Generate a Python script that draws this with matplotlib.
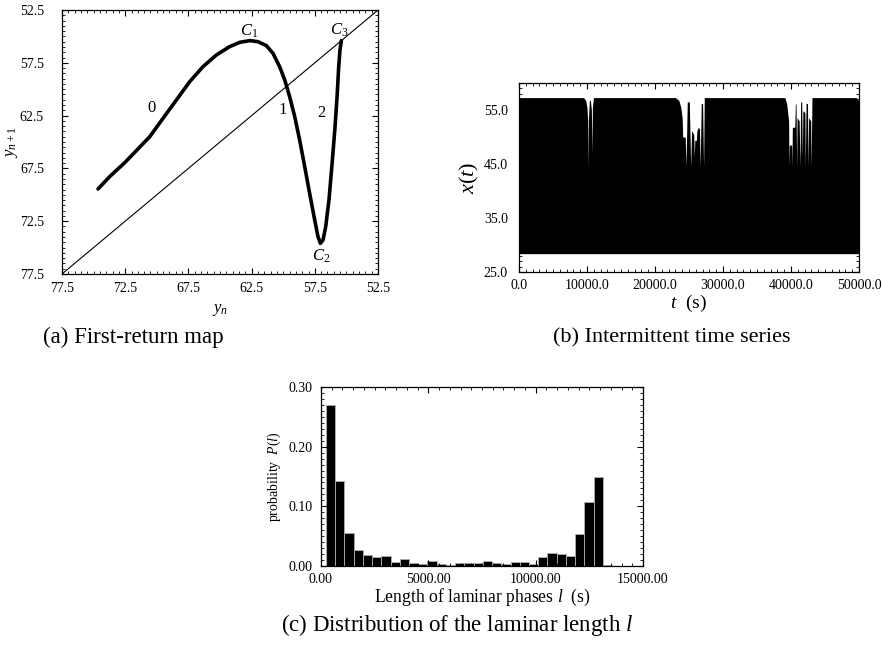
import numpy as np
import matplotlib
matplotlib.use("Agg")
from matplotlib import pyplot as plt
from matplotlib.ticker import MultipleLocator, FormatStrFormatter

plt.rcParams['font.family'] = ['Liberation Serif', 'DejaVu Serif']
plt.rcParams['mathtext.fontset'] = 'custom'
plt.rcParams['mathtext.rm'] = 'Liberation Serif'
plt.rcParams['mathtext.it'] = 'Liberation Serif:italic'

# (a) first-return map
yn = [74.65, 73.73, 72.54, 71.62, 70.56, 69.51, 68.45, 67.40, 66.35, 65.29, 64.24,
      63.44, 62.65, 61.99, 61.33, 60.81, 60.28, 59.88, 59.49, 59.09, 58.70, 58.30,
      57.91, 57.51, 57.25, 57.06, 56.85, 56.64, 56.38, 56.11, 55.90, 55.74, 55.61,
      55.51, 55.40]
yn1 = [69.45, 68.28, 66.96, 65.82, 64.50, 62.76, 61.02, 59.29, 57.87, 56.76, 55.97,
       55.56, 55.40, 55.50, 55.88, 56.60, 57.87, 59.13, 60.71, 62.60, 64.81, 67.34,
       69.86, 72.39, 73.96, 74.60, 74.28, 73.02, 70.49, 66.70, 63.55, 60.71, 57.87,
       56.29, 55.40]
map_ticks = [77.5, 72.5, 67.5, 62.5, 57.5, 52.5]

# (b) upper envelope of the fast oscillation x(t); lower edge is flat
t_env = [0, 9500, 9800, 10000, 10100, 10150, 10200, 10350, 10500, 10650, 10730, 10800,
         10950, 23000, 23500, 23800, 24000, 24080, 24450, 24560, 24750, 25050, 25250,
         25380, 25700, 25780, 25860, 26100, 26150, 26350, 26550, 26650, 26800, 27000,
         27150, 27250, 38300, 39100, 39363, 39650, 39706, 39760, 40100, 40147, 40200,
         40550, 40650, 40750, 40833, 40900, 41200, 41324, 41420, 41580, 41667, 41750,
         42050, 42108, 42220, 42430, 42500, 42600, 42900, 42960, 43088, 49600, 49900,
         50000]
x_env = [57.3, 57.3, 56.8, 55.5, 53.0, 44.0, 53.0, 56.8, 56.8, 55.0, 47.0, 55.5,
         57.3, 57.3, 56.8, 55.5, 53.5, 50.0, 50.0, 44.5, 56.5, 56.5, 44.5,
         51.2, 50.5, 46.3, 49.4, 49.4, 51.0, 51.8, 51.5, 44.5, 56.2, 56.2,
         44.5, 57.3, 57.3, 57.3, 56.2, 53.0, 44.5, 48.5, 48.5, 44.5, 51.8,
         51.8, 56.2, 56.0, 44.5, 53.6, 53.0, 44.5, 56.5, 56.5, 46.3, 54.9,
         54.5, 44.5, 56.2, 56.2, 44.5, 53.6, 53.0, 44.5, 57.3, 57.3, 56.8,
         56.3]
x_low = 28.4

# (c) histogram of laminar lengths
bin_left = 230
bin_width = 430
p_l = [0.270, 0.142, 0.055, 0.027, 0.019, 0.015, 0.017, 0.007, 0.012, 0.005, 0.004,
       0.008, 0.004, 0.002, 0.005, 0.005, 0.005, 0.008, 0.005, 0.003, 0.007, 0.007,
       0.004, 0.015, 0.022, 0.020, 0.016, 0.054, 0.107, 0.149, 0.002]


def style_axes(ax, size, xpad, ypad):
    ax.tick_params(which='both', direction='in', top=True, right=True,
                   labelsize=size, colors='black')
    ax.tick_params(which='major', length=4, width=0.8)
    ax.tick_params(which='minor', length=2, width=0.6)
    ax.tick_params(axis='x', which='major', pad=xpad)
    ax.tick_params(axis='y', which='major', pad=ypad)
    for s in ax.spines.values():
        s.set_linewidth(0.9)


fig = plt.figure(figsize=(8.82, 6.46), dpi=100)

# (a)
ax1 = fig.add_axes([0.0703, 0.5759, 0.3583, 0.4086])
ax1.plot([77.5, 52.5], [77.5, 52.5], color='black', lw=0.8)
ax1.plot(yn, yn1, color='black', lw=2.6, solid_capstyle='round')
ax1.set_xlim(77.5, 52.5)
ax1.set_ylim(77.5, 52.5)
ax1.set_xticks(map_ticks)
ax1.set_yticks(map_ticks)
ax1.xaxis.set_minor_locator(MultipleLocator(0.5))
ax1.yaxis.set_minor_locator(MultipleLocator(0.5))
ax1.xaxis.set_major_formatter(FormatStrFormatter('%.1f'))
ax1.yaxis.set_major_formatter(FormatStrFormatter('%.1f'))
style_axes(ax1, 10, 6, 13)
ax1.set_xlabel('$y_n$', fontsize=12, labelpad=5)
ax1.set_ylabel('$y_{n+1}$', fontsize=12, labelpad=0)
ax1.text(70.43, 61.81, '0', fontsize=12, ha='center', va='center')
ax1.text(60.02, 61.97, '1', fontsize=12, ha='center', va='center')
ax1.text(56.98, 62.22, '2', fontsize=12, ha='center', va='center')
ax1.text(62.70, 54.55, '$C_1$', fontsize=12, ha='center', va='center')
ax1.text(56.98, 75.86, '$C_2$', fontsize=12, ha='center', va='center')
ax1.text(55.53, 54.46, '$C_3$', fontsize=12, ha='center', va='center')

# (b)
ax2 = fig.add_axes([0.5884, 0.5789, 0.3855, 0.2926])
ax2.fill_between(t_env, x_low, x_env, color='black', lw=0)
ax2.set_xlim(0, 50000)
ax2.set_ylim(25, 60)
ax2.xaxis.set_major_locator(MultipleLocator(10000))
ax2.xaxis.set_minor_locator(MultipleLocator(1000))
ax2.yaxis.set_minor_locator(MultipleLocator(1))
ax2.set_yticks([25, 35, 45, 55])
ax2.xaxis.set_major_formatter(FormatStrFormatter('%.1f'))
ax2.yaxis.set_major_formatter(FormatStrFormatter('%.1f'))
style_axes(ax2, 10, 5, 8)
ax2.set_xlabel('$t$  (s)', fontsize=14, labelpad=1)
ax2.set_ylabel('$x(t)$', fontsize=16, labelpad=2)

# (c)
ax3 = fig.add_axes([0.3639, 0.1238, 0.3651, 0.2771])
lefts = [bin_left + i * bin_width for i in range(len(p_l))]
ax3.bar(lefts, p_l, width=bin_width, align='edge', color='black',
        edgecolor='#b0b0b0', linewidth=0.6)
ax3.set_xlim(0, 15000)
ax3.set_ylim(0, 0.30)
ax3.xaxis.set_major_locator(MultipleLocator(5000))
ax3.xaxis.set_minor_locator(MultipleLocator(500))
ax3.yaxis.set_major_locator(MultipleLocator(0.10))
ax3.yaxis.set_minor_locator(MultipleLocator(0.01))
ax3.xaxis.set_major_formatter(FormatStrFormatter('%.2f'))
ax3.yaxis.set_major_formatter(FormatStrFormatter('%.2f'))
style_axes(ax3, 10, 5, 6)
ax3.set_xlabel('Length of laminar phases $l$  (s)', fontsize=12.7, labelpad=1)
ax3.set_ylabel('probability  $P(l)$', fontsize=10, labelpad=4)

fig.text(0.151, 0.477, '(a) First-return map', fontsize=16.5, ha='center', va='center')
fig.text(0.762, 0.477, '(b) Intermittent time series', fontsize=16, ha='center',
         va='center')
fig.text(0.518, 0.0325, '(c) Distribution of the laminar length $l$', fontsize=16.5,
         ha='center', va='center')

fig.savefig('out.png', dpi=100)
